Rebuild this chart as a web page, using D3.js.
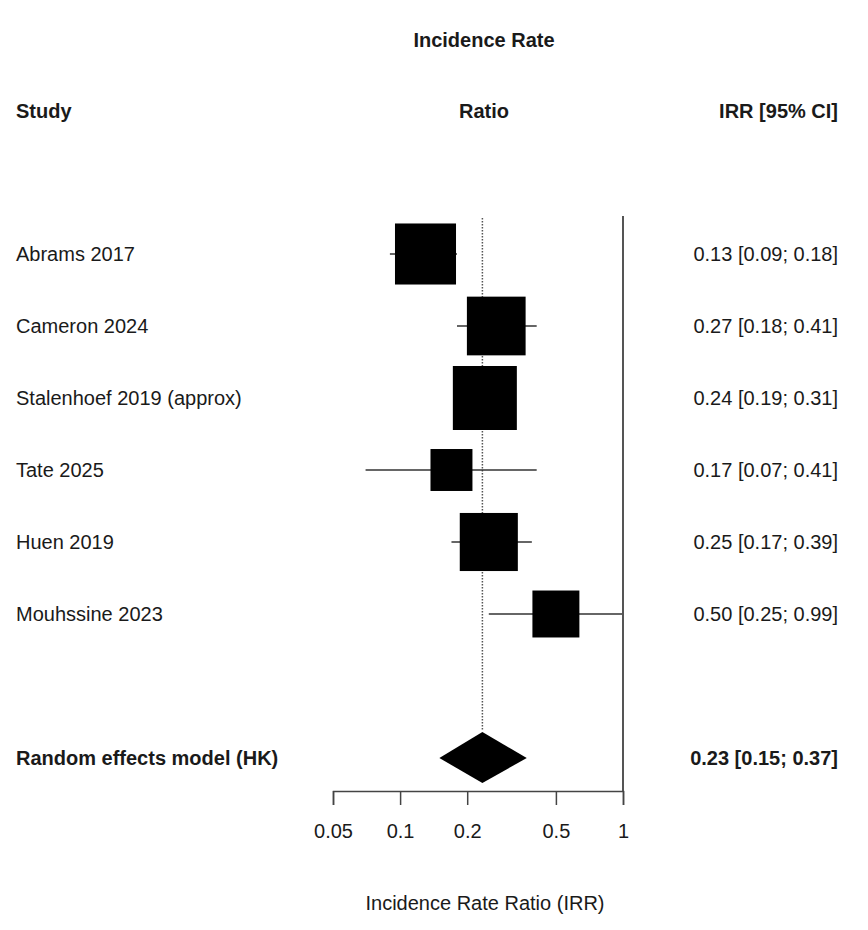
<!DOCTYPE html>
<html>
<head>
<meta charset="utf-8">
<script src="https://cdn.jsdelivr.net/npm/d3@7"></script>
<style>
	body { margin: 0; background: #fff; }
	text { font-family: "Liberation Sans", Arial, sans-serif; fill: #1a1a1a; }
</style>
</head>
<body>
<script>
// Study data
const studies = ["Abrams 2017", "Cameron 2024", "Stalenhoef 2019 (approx)", "Tate 2025", "Huen 2019", "Mouhssine 2023"];
const estimates = [0.13, 0.27, 0.24, 0.17, 0.25, 0.50];
const lower = [0.09, 0.18, 0.19, 0.07, 0.17, 0.25];
const upper = [0.18, 0.41, 0.31, 0.41, 0.39, 0.99];
const weights = [20.1, 18.6, 22.1, 9.5, 18.2, 11.9]; // % weight, drives square size

const pooledLabel = "Random effects model (HK)";
const pooled = { est: 0.234, lo: 0.15, hi: 0.37 };

const tickValues = [0.05, 0.1, 0.2, 0.5, 1];

const w = 868;
const h = 930;

const svg = d3.select("body").append("svg").attr("width", w).attr("height", h);

const x = d3.scaleLog().domain([0.05, 1]).range([333, 623]);
// row 0..5 are studies, row 7 is the pooled estimate
const y = d3.scaleLinear().domain([0, 7]).range([254, 758]);
const side = d3.scaleSqrt().domain([0, d3.max(weights)]).range([0, 64]);

const fmt = d3.format(".2f");
const ciText = (e, l, u) => `${fmt(e)} [${fmt(l)}; ${fmt(u)}]`;

const rows = studies.map((s, i) => ({ study: s, est: estimates[i], lo: lower[i], hi: upper[i], wt: weights[i], row: i }));

// Headers
svg.append("text").attr("x", 484).attr("y", 47).attr("text-anchor", "middle")
	.attr("font-weight", "bold").attr("font-size", 20).text("Incidence Rate");
svg.append("text").attr("x", 16).attr("y", 118).attr("font-weight", "bold").attr("font-size", 20).text("Study");
svg.append("text").attr("x", 484).attr("y", 118).attr("text-anchor", "middle")
	.attr("font-weight", "bold").attr("font-size", 20).text("Ratio");
svg.append("text").attr("x", 838).attr("y", 118).attr("text-anchor", "end")
	.attr("font-weight", "bold").attr("font-size", 20).text("IRR [95% CI]");

// Null line at 1
svg.append("line")
	.attr("x1", x(1)).attr("x2", x(1))
	.attr("y1", 216).attr("y2", 791)
	.attr("stroke", "#555").attr("stroke-width", 2);

// Dotted line at pooled estimate
svg.append("line")
	.attr("x1", x(pooled.est)).attr("x2", x(pooled.est))
	.attr("y1", 218).attr("y2", 731)
	.attr("stroke", "#555").attr("stroke-width", 1.5)
	.attr("stroke-dasharray", "1.5,1.5");

// CI whiskers
svg.selectAll("line.ci")
	.data(rows)
	.enter()
	.append("line")
	.attr("class", "ci")
	.attr("x1", (d) => x(d.lo))
	.attr("x2", (d) => x(d.hi))
	.attr("y1", (d) => y(d.row))
	.attr("y2", (d) => y(d.row))
	.attr("stroke", "#333")
	.attr("stroke-width", 1.5);

// Weight squares
svg.selectAll("rect.box")
	.data(rows)
	.enter()
	.append("rect")
	.attr("class", "box")
	.attr("x", (d) => x(d.est) - side(d.wt) / 2)
	.attr("y", (d) => y(d.row) - side(d.wt) / 2)
	.attr("width", (d) => side(d.wt))
	.attr("height", (d) => side(d.wt))
	.attr("fill", "#000");

// Study labels
svg.selectAll("text.study")
	.data(rows)
	.enter()
	.append("text")
	.attr("class", "study")
	.attr("x", 16)
	.attr("y", (d) => y(d.row) + 7)
	.attr("font-size", 20)
	.text((d) => d.study);

// Estimate labels
svg.selectAll("text.est")
	.data(rows)
	.enter()
	.append("text")
	.attr("class", "est")
	.attr("x", 838)
	.attr("y", (d) => y(d.row) + 7)
	.attr("text-anchor", "end")
	.attr("font-size", 20)
	.text((d) => ciText(d.est, d.lo, d.hi));

// Pooled diamond
const py = y(7);
svg.append("polygon")
	.attr("points", [
		[x(pooled.lo), py],
		[x(pooled.est), py - 26],
		[x(pooled.hi), py],
		[x(pooled.est), py + 25],
	].map((p) => p.join(",")).join(" "))
	.attr("fill", "#000");

svg.append("text").attr("x", 16).attr("y", py + 7)
	.attr("font-weight", "bold").attr("font-size", 20).text(pooledLabel);
svg.append("text").attr("x", 838).attr("y", py + 7).attr("text-anchor", "end")
	.attr("font-weight", "bold").attr("font-size", 20)
	.text(ciText(Math.round(pooled.est * 100) / 100, pooled.lo, pooled.hi));

// x-axis
const xAxis = d3.axisBottom(x).tickValues(tickValues).tickSize(14).tickPadding(19)
	.tickFormat((d) => String(d));
const gx = svg.append("g").attr("transform", "translate(0, 791)").call(xAxis);
gx.select(".domain").attr("stroke", "#444").attr("stroke-width", 1.5);
gx.selectAll(".tick line").attr("stroke", "#444").attr("stroke-width", 1.5);
gx.selectAll(".tick text").attr("font-size", 20).attr("fill", "#1a1a1a")
	.attr("font-family", "Liberation Sans, Arial, sans-serif");

svg.append("text").attr("x", 485).attr("y", 910).attr("text-anchor", "middle")
	.attr("font-size", 20).text("Incidence Rate Ratio (IRR)");
</script>
</body>
</html>
